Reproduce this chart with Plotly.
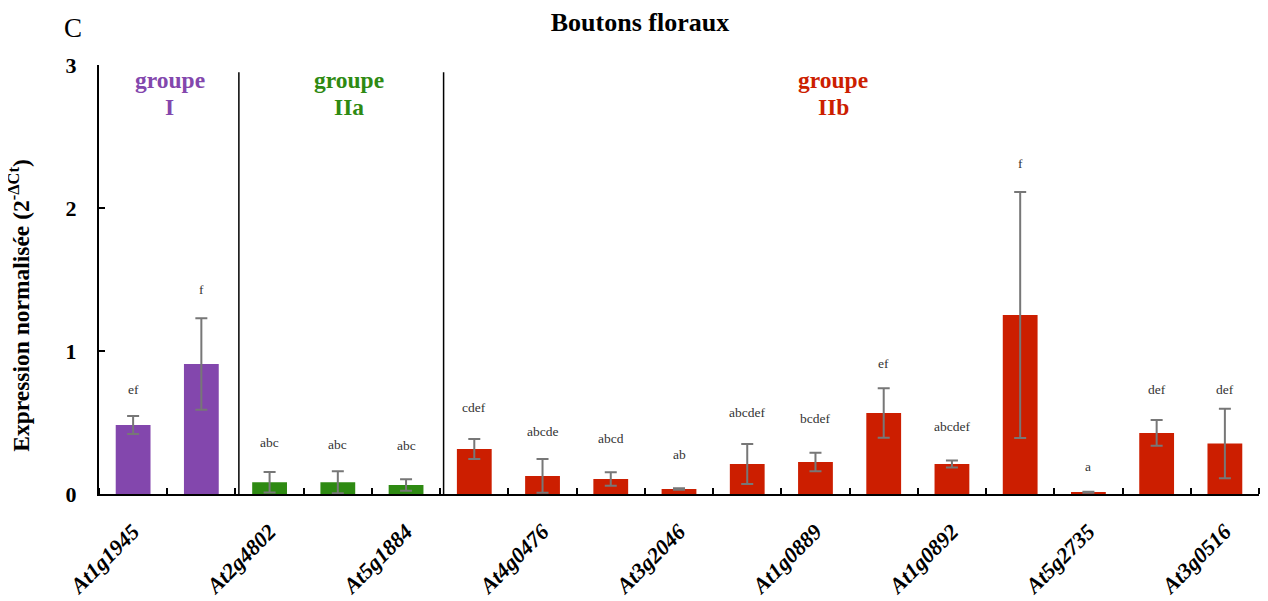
import plotly.graph_objects as go

# ---- data ----
tick_labels = ["At1g1945", "At2g4802", "At5g1884", "At4g0476", "At3g2046",
               "At1g0889", "At1g0892", "At5g2735", "At3g0516"]
groups = ["I", "I", "IIa", "IIa", "IIa",
          "IIb", "IIb", "IIb", "IIb", "IIb", "IIb", "IIb", "IIb", "IIb", "IIb", "IIb", "IIb"]
values = [0.483, 0.909, 0.082, 0.082, 0.063,
          0.315, 0.126, 0.105, 0.035, 0.210, 0.224, 0.566, 0.210, 1.252, 0.012, 0.427, 0.354]
errors = [0.063, 0.32, 0.072, 0.077, 0.040,
          0.070, 0.118, 0.047, 0.005, 0.140, 0.065, 0.173, 0.024, 0.86, 0.003, 0.090, 0.243]
letters = ["ef", "f", "abc", "abc", "abc",
           "cdef", "abcde", "abcd", "ab", "abcdef", "bcdef", "ef", "abcdef", "f", "a", "def", "def"]
letter_y = [0.734, 1.43, 0.357, 0.343, 0.336,
            0.608, 0.44, 0.39, 0.273, 0.573, 0.531, 0.916, 0.469, 2.31, 0.189, 0.734, 0.734]
group_names = ["I", "IIa", "IIb"]
group_colors = {"I": "#8347AD", "IIa": "#2E8A12", "IIb": "#CC1E00"}
group_label_x = [0.54, 3.16, 10.26]

SERIF = "Liberation Serif"

x = list(range(len(values)))
colors = [group_colors[g] for g in groups]

fig = go.Figure()
fig.add_trace(go.Bar(
    x=x, y=values,
    marker=dict(color=colors, line=dict(width=0)),
    error_y=dict(type="data", array=errors, visible=True,
                 color="#777777", thickness=2, width=6),
    width=0.51,
    showlegend=False,
))

annotations = []
for xi, t, yy in zip(x, letters, letter_y):
    annotations.append(dict(x=xi, y=yy, xref="x", yref="y", text=t, showarrow=False,
                            font=dict(family=SERIF, size=13.5, color="#333333"),
                            xanchor="center", yanchor="middle"))

for gname, gx in zip(group_names, group_label_x):
    annotations.append(dict(x=gx, y=2.895, xref="x", yref="y",
                            text="<b>groupe</b>", showarrow=False,
                            font=dict(family=SERIF, size=23.5, color=group_colors[gname]),
                            xanchor="center", yanchor="middle"))
    annotations.append(dict(x=gx, y=2.706, xref="x", yref="y",
                            text="<b>%s</b>" % gname, showarrow=False,
                            font=dict(family=SERIF, size=23.5, color=group_colors[gname]),
                            xanchor="center", yanchor="middle"))

annotations.append(dict(x=-0.0224, y=1.086, xref="paper", yref="paper", text="C",
                        showarrow=False, font=dict(family=SERIF, size=27, color="black"),
                        xanchor="center", yanchor="middle"))

annotations.append(dict(x=-0.0685, y=0.44, xref="paper", yref="paper",
                        text="<b>Expression normalisée (2<sup>-ΔCt</sup>)</b>",
                        textangle=-90, showarrow=False,
                        font=dict(family=SERIF, size=23.5, color="black"),
                        xanchor="center", yanchor="middle"))

# separators between groups
shapes = []
count = 0
for gname in group_names[:-1]:
    count += groups.count(gname)
    shapes.append(dict(type="line", xref="x", yref="y", x0=count - 0.45, x1=count - 0.45,
                       y0=0, y1=2.95, line=dict(color="black", width=1.5)))

fig.update_layout(
    width=1260, height=593,
    margin=dict(l=91, r=9, t=57, b=107),
    paper_bgcolor="white", plot_bgcolor="white",
    title=dict(text="<b>Boutons floraux</b>", x=632 / 1260, xref="container", xanchor="center",
               y=1 - 14 / 593, yref="container", yanchor="middle",
               font=dict(family=SERIF, size=26, color="black")),
    annotations=annotations,
    shapes=shapes,
    xaxis=dict(range=[-0.5, len(values) - 0.5], automargin=False,
               tickmode="array", tickvals=x[::2],
               ticktext=["<b><i>%s</i></b>" % t for t in tick_labels],
               tickangle=-45, ticks="", ticklen=0,
               tickfont=dict(family=SERIF, size=22, color="black"),
               ticklabelstandoff=14,
               showline=True, linecolor="black", linewidth=2,
               showgrid=False, zeroline=False,
               minor=dict(tickmode="linear", tick0=-0.5, dtick=1, ticks="inside",
                          ticklen=6, tickcolor="black", tickwidth=2, showgrid=False)),
    yaxis=dict(range=[0, 3], automargin=False, tickmode="array", tickvals=[0, 1, 2, 3],
               ticktext=["<b>0</b>", "<b>1</b>", "<b>2</b>", "<b>3</b>"],
               ticks="inside", ticklen=6,
               tickwidth=2, tickcolor="black",
               tickfont=dict(family=SERIF, size=22, color="black"),
               ticklabelstandoff=16,
               showline=True, linecolor="black", linewidth=2,
               showgrid=False, zeroline=False),
    bargap=0.49,
)

fig.write_html("out.html")
